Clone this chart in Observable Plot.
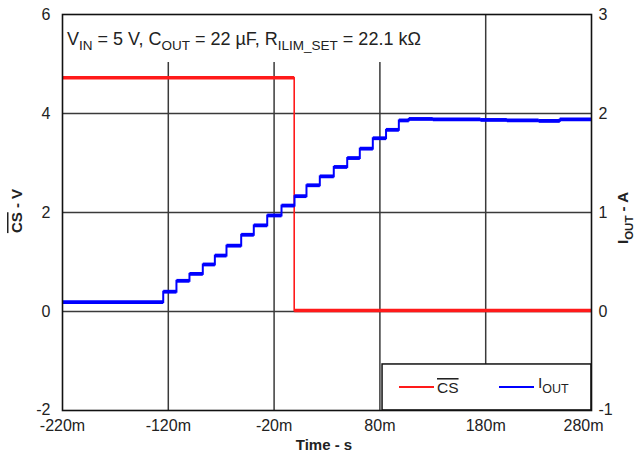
<!DOCTYPE html>
<html><head><meta charset="utf-8">
<script src="https://cdn.jsdelivr.net/npm/d3@7"></script>
<script src="https://cdn.jsdelivr.net/npm/@observablehq/plot@0.6"></script>
<style>
body{margin:0;background:#fff}
svg{font-family:"Liberation Sans",Arial,Helvetica,sans-serif}
</style>
</head><body><div id="chart"></div>
<script>
// Time axis in milliseconds
const xTicks = [-220, -120, -20, 80, 180, 280];
const yTicksLeft = [-2, 0, 2, 4, 6];     // CS (V)
const yTicksRight = [-1, 0, 1, 2, 3];    // IOUT (A)

// CS-bar trace (step-after: level holds from time[i] to time[i+1])
const csTime = [-220, -1, 280];
const csVolt = [4.72, 0.02, 0.02];

// IOUT trace (A), step-after
const ioutTime = [-220, -124.8, -112.3, -100.0, -87.4, -76.0, -65.0, -51.1, -39.2, -26.5, -13.0, -0.7, 10.6, 23.2, 36.4, 49.1, 61.0, 73.3, 85.8, 97.9, 107.3, 130, 175, 200, 230, 250, 280];
const ioutAmp  = [0.095, 0.20, 0.31, 0.38, 0.475, 0.565, 0.665, 0.775, 0.87, 0.97, 1.07, 1.165, 1.275, 1.365, 1.46, 1.55, 1.645, 1.75, 1.835, 1.93, 1.945, 1.94, 1.935, 1.93, 1.925, 1.94, 1.945];

const ampToVolt = 2; // right axis (A) maps onto left axis (V): 1 A <-> 2 V

function segments(ts, vs, k) {
  const out = [];
  for (let i = 0; i < ts.length - 1; i++) {
    out.push({x1: ts[i], x2: ts[i + 1], y1: vs[i] * k, y2: vs[i] * k, h: true});
    if (i + 1 < ts.length - 1 && vs[i + 1] !== vs[i])
      out.push({x1: ts[i + 1], x2: ts[i + 1], y1: vs[i] * k, y2: vs[i + 1] * k, h: false});
  }
  return out;
}
const csSegs = segments(csTime, csVolt, 1);
const ioSegs = segments(ioutTime, ioutAmp, ampToVolt);

const annotBox = [{x1: -220, x2: 160, y1: 5.03, y2: 6}];
const legendBox = [{x1: 82.5, x2: 280, y1: -2, y2: -1.07}];

const fmt = d => String(d);

const plot = Plot.plot({
  width: 636, height: 455,
  marginLeft: 62, marginRight: 45, marginTop: 14, marginBottom: 45,
  x: {domain: [-220, 280]},
  y: {domain: [-2, 6]},
  style: {fontFamily: '"Liberation Sans", Arial, sans-serif', fontSize: "16px", color: "#222", background: "white"},
  marks: [
    Plot.ruleX(xTicks.slice(1, -1), {stroke: "#3a3a3a", strokeWidth: 1.5}),
    Plot.ruleY(yTicksLeft.slice(1, -1), {stroke: "#3a3a3a", strokeWidth: 1.5}),
    Plot.rect(annotBox, {x1: "x1", x2: "x2", y1: "y1", y2: "y2", fill: "white"}),
    Plot.rect(legendBox, {x1: "x1", x2: "x2", y1: "y1", y2: "y2", fill: "white", stroke: "#111", strokeWidth: 1.5}),
    Plot.link(csSegs.filter(d => d.h), {x1: "x1", x2: "x2", y1: "y1", y2: "y2", stroke: "#ff1a1a", strokeWidth: 3.5, strokeLinecap: "butt"}),
    Plot.link(csSegs.filter(d => !d.h), {x1: "x1", x2: "x2", y1: "y1", y2: "y2", stroke: "#ff1a1a", strokeWidth: 1.6, strokeLinecap: "square"}),
    Plot.link(ioSegs.filter(d => d.h), {x1: "x1", x2: "x2", y1: "y1", y2: "y2", stroke: "#0000ff", strokeWidth: 3.8, strokeLinecap: "butt"}),
    Plot.link(ioSegs.filter(d => !d.h), {x1: "x1", x2: "x2", y1: "y1", y2: "y2", stroke: "#0000ff", strokeWidth: 2, strokeLinecap: "square"}),
    Plot.frame({stroke: "#111", strokeWidth: 1.6}),
    Plot.axisX({ticks: xTicks, tickSize: 0, tickPadding: 9, tickFormat: d => d + "m", label: null, fontSize: 16}),
    Plot.axisY({ticks: yTicksLeft, tickSize: 0, tickPadding: 12, tickFormat: fmt, label: null, fontSize: 16}),
    Plot.axisY({anchor: "right", ticks: yTicksLeft, tickSize: 0, tickPadding: 7,
      tickFormat: (d, i) => fmt(yTicksRight[i]), label: null, fontSize: 16})
  ]
});
document.getElementById("chart").appendChild(plot);

const svg = d3.select(plot);
// nudge edge tick labels as in the reference
svg.selectAll("text").filter(function () { return d3.select(this).text() === "280m"; })
  .attr("dx", -8);
svg.selectAll("g[aria-label='y-axis tick label'] text")
  .filter(function () { const s = d3.select(this).text(); return s === "-1" || s === "-2"; })
  .attr("dy", "-0.05em");

const g = svg.append("g").attr("fill", "#222").attr("text-anchor", "start");

// annotation
const ann = g.append("text").attr("x", 67).attr("y", 45).attr("font-size", 18).attr("text-anchor", "start");
ann.append("tspan").text("V");
ann.append("tspan").attr("font-size", 13.5).attr("dy", 5).text("IN");
ann.append("tspan").attr("dy", -5).text(" = 5 V, C");
ann.append("tspan").attr("font-size", 13.5).attr("dy", 5).text("OUT");
ann.append("tspan").attr("dy", -5).text(" = 22 \u00b5F, R");
ann.append("tspan").attr("font-size", 13.5).attr("dy", 5).text("ILIM_SET");
ann.append("tspan").attr("dy", -5).text(" = 22.1 k\u03a9");

// x title
g.append("text").attr("x", 324).attr("y", 450).attr("text-anchor", "middle")
  .attr("font-weight", "bold").attr("font-size", 15).text("Time - s");

// left y title
const lt = g.append("text").attr("transform", "translate(22,211) rotate(-90)")
  .attr("text-anchor", "middle").attr("font-weight", "bold").attr("font-size", 15);
lt.append("tspan").attr("text-decoration", "overline").style("text-decoration", "overline").text("CS");
lt.append("tspan").text(" - V");

// right y title
const rt = g.append("text").attr("transform", "translate(628,218) rotate(-90)")
  .attr("text-anchor", "middle").attr("font-weight", "bold").attr("font-size", 15);
rt.append("tspan").text("I");
rt.append("tspan").attr("font-size", 11.5).attr("dy", 4.5).text("OUT");
rt.append("tspan").attr("dy", -4.5).text(" - A");

// legend
const ly = 387;
g.append("line").attr("x1", 399).attr("x2", 434).attr("y1", ly).attr("y2", ly).attr("stroke", "#ff1a1a").attr("stroke-width", 2);
g.append("text").attr("x", 437).attr("y", 393).attr("font-size", 15.5).attr("text-anchor", "start")
  .append("tspan").attr("text-decoration", "overline").style("text-decoration", "overline").text("CS");
g.append("line").attr("x1", 499).attr("x2", 534).attr("y1", ly).attr("y2", ly).attr("stroke", "#0000ff").attr("stroke-width", 2);
const li = g.append("text").attr("x", 538).attr("y", 388).attr("font-size", 15.5).attr("text-anchor", "start");
li.append("tspan").text("I");
li.append("tspan").attr("font-size", 12.5).attr("dy", 5).text("OUT");
</script>
</body></html>
